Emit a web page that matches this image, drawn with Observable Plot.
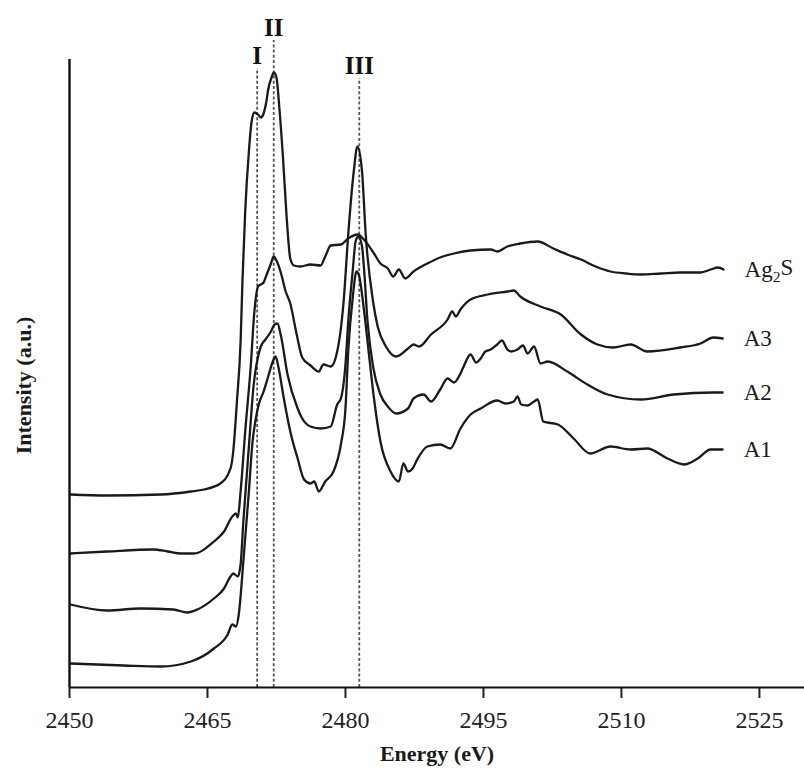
<!DOCTYPE html>
<html>
<head>
<meta charset="utf-8">
<script src="https://cdn.jsdelivr.net/npm/d3@7"></script>
<script src="https://cdn.jsdelivr.net/npm/@observablehq/plot@0.6"></script>
<style>
  html, body { margin: 0; padding: 0; background: #fff; }
  #chart { width: 804px; height: 774px; }
</style>
</head>
<body>
<div id="chart"></div>
<script>
// ---- Data (energy in eV, intensity in a.u., spectra stacked as published) ----
const seriesNames = ["Ag₂S", "A3", "A2", "A1"];

const ag2s = [[2450.1,1.93],[2454.1,1.92],[2459.9,1.93],[2463.2,1.96],[2464.6,1.98],[2466.4,2.04],[2467.5,2.19],[2467.8,2.36],[2468.2,2.86],[2468.6,3.46],[2468.8,4.06],[2469.1,4.76],[2469.5,5.36],[2469.8,5.66],[2470.1,5.75],[2470.5,5.73],[2470.8,5.70],[2471.1,5.74],[2471.4,5.86],[2471.6,5.98],[2472.0,6.11],[2472.2,6.15],[2472.5,6.10],[2472.8,5.81],[2473.2,5.31],[2473.6,4.71],[2474.0,4.29],[2474.4,4.22],[2475.1,4.21],[2476.2,4.23],[2477.3,4.22],[2477.8,4.31],[2478.4,4.42],[2479.5,4.43],[2480.3,4.49],[2481.3,4.53],[2482.0,4.48],[2483.1,4.34],[2483.8,4.24],[2484.6,4.19],[2485.2,4.11],[2485.8,4.18],[2486.5,4.09],[2487.4,4.16],[2488.9,4.24],[2490.3,4.30],[2491.8,4.34],[2493.6,4.37],[2495.8,4.38],[2496.5,4.36],[2497.6,4.41],[2499.0,4.44],[2500.9,4.46],[2502.6,4.39],[2504.1,4.33],[2505.6,4.28],[2507.2,4.21],[2508.8,4.16],[2510.5,4.14],[2512.1,4.13],[2514.3,4.14],[2516.4,4.15],[2518.6,4.15],[2519.7,4.18],[2520.5,4.20],[2521.1,4.18]];

const a3 = [[2450.1,1.34],[2454.1,1.36],[2459.1,1.38],[2460.7,1.36],[2462.1,1.34],[2463.5,1.34],[2465.7,1.46],[2466.8,1.56],[2467.7,1.71],[2468.1,1.74],[2468.3,1.70],[2468.6,1.96],[2469.1,2.56],[2469.7,3.21],[2470.1,3.76],[2470.5,4.01],[2470.8,4.03],[2471.1,4.05],[2471.4,4.12],[2471.9,4.24],[2472.2,4.31],[2472.5,4.27],[2473.0,4.14],[2473.5,3.96],[2474.0,3.84],[2474.7,3.53],[2475.3,3.30],[2476.2,3.22],[2477.1,3.16],[2477.6,3.23],[2478.4,3.21],[2479.1,3.36],[2479.8,3.86],[2480.3,4.53],[2480.9,5.16],[2481.3,5.41],[2481.8,5.16],[2482.2,4.53],[2483.0,3.86],[2483.5,3.61],[2484.4,3.41],[2485.5,3.31],[2486.8,3.39],[2487.4,3.43],[2488.0,3.41],[2489.3,3.53],[2491.1,3.68],[2491.6,3.76],[2492.0,3.71],[2492.5,3.78],[2493.6,3.88],[2495.5,3.93],[2497.6,3.96],[2498.3,3.97],[2499.0,3.91],[2501.2,3.81],[2503.4,3.73],[2505.6,3.53],[2507.4,3.43],[2509.1,3.40],[2511.0,3.43],[2512.8,3.36],[2516.4,3.40],[2518.6,3.44],[2520.0,3.50],[2521.0,3.49]];

const a2 = [[2450.1,0.83],[2454.1,0.77],[2457.7,0.79],[2461.3,0.78],[2462.8,0.75],[2463.9,0.78],[2465.7,0.89],[2466.8,0.99],[2467.5,1.11],[2467.8,1.14],[2468.3,1.11],[2468.6,1.23],[2468.9,1.66],[2469.3,2.16],[2469.7,2.66],[2470.0,3.01],[2470.5,3.31],[2470.8,3.41],[2471.3,3.48],[2471.9,3.56],[2472.3,3.63],[2472.6,3.64],[2473.0,3.51],[2473.7,3.13],[2474.8,2.79],[2475.3,2.69],[2476.2,2.61],[2477.3,2.59],[2478.4,2.61],[2479.1,2.83],[2479.5,2.89],[2480.0,3.23],[2480.3,3.66],[2480.8,4.18],[2481.1,4.46],[2481.4,4.51],[2481.8,4.41],[2482.0,4.21],[2482.4,3.66],[2483.0,3.21],[2483.8,2.93],[2484.6,2.81],[2485.5,2.74],[2486.8,2.79],[2487.4,2.89],[2488.5,2.93],[2489.3,2.86],[2490.3,2.98],[2491.1,3.09],[2491.8,3.05],[2492.5,3.14],[2492.8,3.20],[2493.6,3.33],[2494.2,3.25],[2494.7,3.29],[2495.2,3.36],[2495.8,3.38],[2496.5,3.43],[2497.0,3.47],[2497.6,3.38],[2498.0,3.36],[2498.7,3.38],[2499.3,3.42],[2499.8,3.34],[2500.5,3.41],[2501.2,3.24],[2502.0,3.26],[2504.1,3.16],[2506.3,3.03],[2508.5,2.93],[2512.1,2.88],[2515.7,2.93],[2520.0,2.95],[2521.0,2.95]];

const a1 = [[2450.1,0.24],[2455.9,0.22],[2459.9,0.21],[2463.2,0.26],[2465.7,0.39],[2467.2,0.53],[2467.7,0.63],[2468.1,0.61],[2468.4,0.73],[2468.9,1.26],[2469.5,1.96],[2469.9,2.46],[2470.2,2.66],[2470.6,2.84],[2471.1,2.96],[2471.6,3.11],[2472.1,3.26],[2472.4,3.31],[2472.7,3.21],[2473.3,2.89],[2474.0,2.56],[2474.8,2.29],[2475.5,2.08],[2476.2,2.04],[2476.6,2.06],[2477.1,1.96],[2477.8,2.06],[2478.7,2.16],[2479.5,2.43],[2480.0,2.79],[2480.3,3.36],[2480.8,3.91],[2481.2,4.16],[2481.5,4.11],[2481.9,3.86],[2482.4,3.46],[2483.1,2.89],[2483.8,2.46],[2484.9,2.16],[2485.8,2.06],[2486.3,2.24],[2486.8,2.16],[2487.3,2.19],[2487.8,2.28],[2488.9,2.41],[2490.3,2.43],[2491.4,2.39],[2492.5,2.59],[2493.6,2.73],[2494.7,2.79],[2496.5,2.87],[2497.4,2.84],[2498.3,2.86],[2498.7,2.91],[2499.1,2.83],[2499.8,2.82],[2500.5,2.86],[2500.9,2.88],[2501.5,2.66],[2503.1,2.63],[2504.8,2.49],[2506.6,2.34],[2508.8,2.41],[2511.0,2.38],[2512.8,2.39],[2515.0,2.29],[2516.8,2.23],[2518.3,2.29],[2519.7,2.38],[2521.0,2.38]];

const peakNames  = ["I", "II", "III"];
const peakEnergy = [2470.4, 2472.2, 2481.5];
const peakLevel  = [6.32, 6.60, 6.22];   // height of the peak labels (a.u.)

const xTicks = [2450, 2465, 2480, 2495, 2510, 2525];

// ---- Build tables ----
const seriesArrays = [ag2s, a3, a2, a1];
const spectra = seriesArrays.flatMap((arr, i) =>
  arr.map(([energy, intensity]) => ({series: seriesNames[i], energy, intensity})));
const peaks = peakNames.map((name, i) => ({name, energy: peakEnergy[i], level: peakLevel[i]}));

const serif = "'Liberation Serif', 'Times New Roman', Times, serif";

const chart = Plot.plot({
  width: 804,
  height: 774,
  marginLeft: 69,
  marginRight: 0,
  marginTop: 59,
  marginBottom: 87,
  style: {fontFamily: serif, fontSize: "24px", color: "#222", background: "#fff", overflow: "visible"},
  x: {domain: [2450, 2529.9]},
  y: {domain: [0, 6.28], axis: null},
  marks: [
    Plot.axisX({ticks: xTicks, tickSize: 11, tickPadding: 12, tickFormat: d => String(d),
                strokeWidth: 2, fontSize: 24, fill: "#222", label: null}),
    Plot.ruleX(peaks, {x: "energy", y1: 0, y2: d => d.level - 0.13,
                       stroke: "#555", strokeWidth: 1.8, strokeDasharray: "3,2.2"}),
    Plot.text(peaks, {x: "energy", y: "level", text: "name", fontWeight: "bold",
                      fontSize: 25, fill: "#111", lineAnchor: "middle"}),
    Plot.line(spectra, {x: "energy", y: "intensity", z: "series", stroke: "#1a1a1a",
                        strokeWidth: 2.3, curve: "monotone-x"}),
    Plot.text(spectra, Plot.selectLast({x: "energy", y: "intensity", z: "series", text: "series",
                        dx: 21, textAnchor: "start", lineAnchor: "middle", fontSize: 23, fill: "#1a1a1a"})),
    Plot.ruleY([0], {stroke: "#111", strokeWidth: 2.2}),
    Plot.ruleX([2450], {y1: 0, y2: 6.28, stroke: "#111", strokeWidth: 2.4}),
    Plot.text(["Energy (eV)"], {frameAnchor: "bottom", dy: 66, textAnchor: "middle", lineAnchor: "middle",
                                fontWeight: "bold", fontSize: 22, fill: "#1a1a1a"}),
    Plot.text(["Intensity (a.u.)"], {frameAnchor: "left", dx: -46, dy: 12, rotate: -90,
                                     textAnchor: "middle", lineAnchor: "middle",
                                     fontWeight: "bold", fontSize: 22, fill: "#1a1a1a"})
  ]
});

document.getElementById("chart").appendChild(chart);

// Render the subscript in Ag₂S as a real subscript
d3.select(chart).selectAll("text").each(function () {
  const t = this.textContent;
  if (t.includes("₂") && this.childElementCount === 0) {
    const parts = t.split("₂");
    const sel = d3.select(this);
    sel.text(null);
    sel.append("tspan").text(parts[0]);
    sel.append("tspan").attr("dy", "0.3em").attr("font-size", "0.68em").text("2");
    sel.append("tspan").attr("dy", "-0.3em").text(parts[1]);
  }
});
</script>
</body>
</html>
